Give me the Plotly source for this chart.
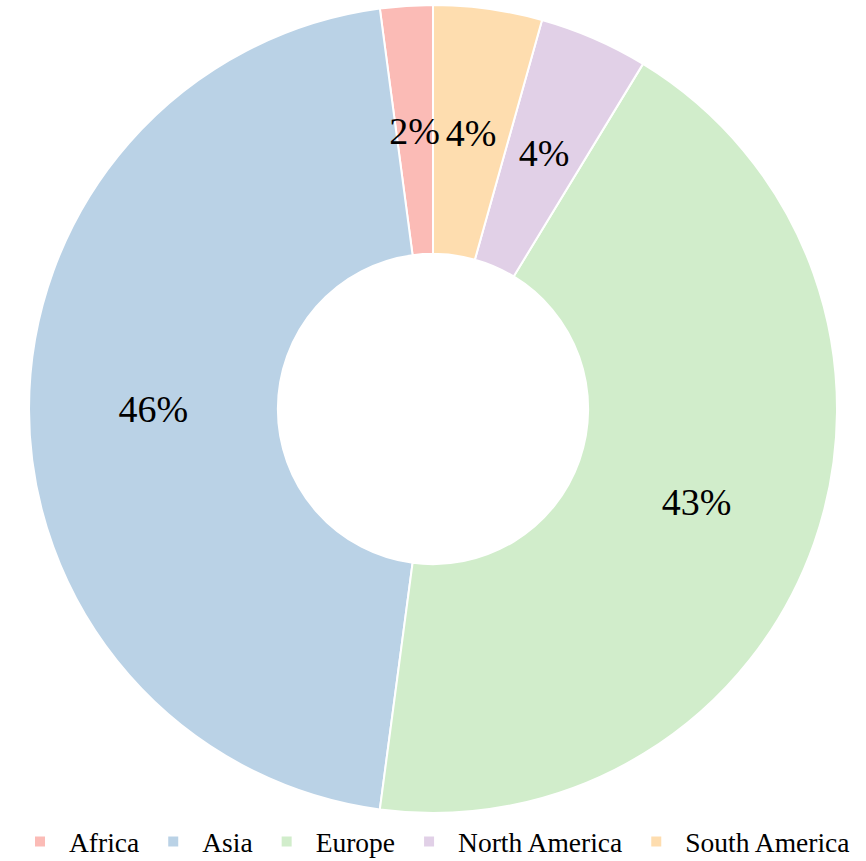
import plotly.graph_objects as go

regions = ["Africa", "Asia", "Europe", "North America", "South America"]
shares = [2.1, 45.8, 43.4, 4.35, 4.35]
colors = ["rgba(251,180,174,0.9)", "rgba(179,205,227,0.9)", "rgba(204,235,197,0.9)",
          "rgba(222,203,228,0.9)", "rgba(254,217,166,0.9)"]

total = sum(shares)
# start the first slice (Africa) at 12 o'clock, running counterclockwise
start_rotation = -360.0 * shares[0] / total
big = [s / total >= 0.1 for s in shares]

W, H = 866, 861
T, B = 5, 48
PH = H - T - B          # plot-area height (808)
R = PH / 2              # outer radius in px
R_LAB = 289             # outer radius of the thin label ring

FONT = "Liberation Serif"
txtfont = dict(family=FONT, size=38, color="black")

# main donut: labels of the large slices
main = go.Pie(
    labels=regions, values=shares, sort=False,
    direction="counterclockwise", rotation=start_rotation,
    hole=0.384,
    marker=dict(colors=colors, line=dict(color="white", width=2)),
    texttemplate=["%{percent:.0%}" if b else "" for b in big],
    textposition="inside", insidetextorientation="horizontal",
    textfont=txtfont, insidetextfont=txtfont,
    domain=dict(x=[0.5 - R / W, 0.5 + R / W], y=[0, 1]),
)

# transparent thin ring at mid-radius carrying the small slice labels
lab = go.Pie(
    labels=regions, values=shares, sort=False,
    direction="counterclockwise", rotation=start_rotation,
    hole=0.93,
    marker=dict(colors=["rgba(0,0,0,0)"] * len(regions), line=dict(width=0)),
    texttemplate=["" if b else "%{percent:.0%}" for b in big],
    textposition="inside", insidetextorientation="horizontal",
    textfont=txtfont, insidetextfont=txtfont,
    showlegend=False, hoverinfo="skip",
    domain=dict(x=[0.5 - R_LAB / W, 0.5 + R_LAB / W],
                y=[0.5 - R_LAB / PH, 0.5 + R_LAB / PH]),
)

fig = go.Figure([main, lab])

fig.update_layout(
    width=W, height=H,
    margin=dict(l=0, r=0, t=T, b=B, autoexpand=False),
    paper_bgcolor="white",
    plot_bgcolor="white",
    font=dict(family=FONT, color="black"),
    uniformtext=dict(minsize=38, mode="show"),
    legend=dict(orientation="h", x=0.5, xanchor="center", y=-0.005, yanchor="top",
                font=dict(size=27.5, family=FONT, color="black"),
                itemwidth=48, traceorder="normal"),
)

fig.write_html("out.html", config={"displayModeBar": False},
               post_script="document.body.style.margin='0px';")
